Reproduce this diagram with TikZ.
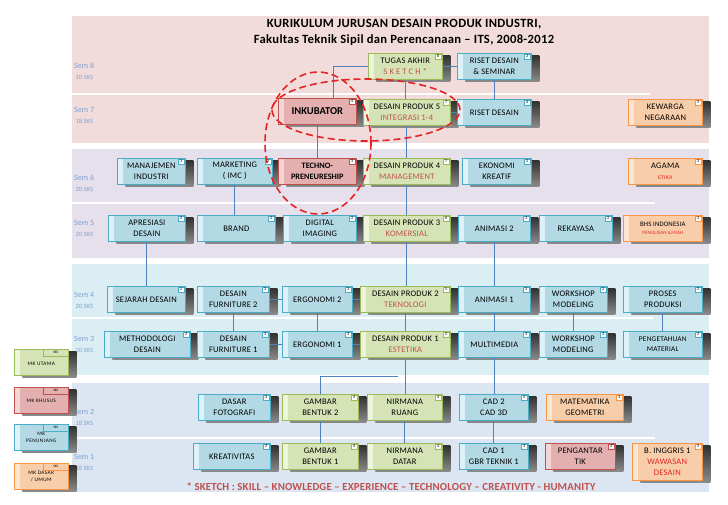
\documentclass[tikz,border=0pt]{standalone}
\usepackage{fontspec}
\setmainfont{Carlito}
\usetikzlibrary{positioning, shadows, calc}
\definecolor{biruIsi}{HTML}{B3D9E5}
\definecolor{biruTerang}{HTML}{DDF2F8}
\definecolor{biruGaris}{HTML}{4BACC6}
\definecolor{hijauIsi}{HTML}{D5E3B6}
\definecolor{hijauTerang}{HTML}{ECF4D9}
\definecolor{hijauGaris}{HTML}{9BBB59}
\definecolor{merahIsi}{HTML}{E4B0AF}
\definecolor{merahTerang}{HTML}{F3D5D4}
\definecolor{merahGaris}{HTML}{C0504D}
\definecolor{oranyeIsi}{HTML}{F8CDA9}
\definecolor{oranyeTerang}{HTML}{FCE5D1}
\definecolor{oranyeGaris}{HTML}{F79646}
\definecolor{pitaMerah}{HTML}{F2DCDB}
\definecolor{pitaUngu}{HTML}{E6E0EC}
\definecolor{pitaBiru}{HTML}{DBEEF4}
\definecolor{pitaAbu}{HTML}{DCE6F2}
\definecolor{teksSem}{HTML}{7F9FD0}
\definecolor{teksKet}{HTML}{C0504D}
\definecolor{teksMerah}{HTML}{E42424}
\definecolor{garisBiru}{HTML}{4F81BD}
\tikzset{
  mk/.style={
    rectangle, inner sep=1pt, minimum height=26pt, align=center,
    font=\fontsize{8.5}{11}\selectfont\addfontfeatures{LetterSpace=3},
    line width=0.6pt,
    general shadow={shadow xshift=8pt, shadow yshift=-2.5pt, top color=black!80, bottom color=black!45}
  },
  mkbiru/.style={mk, draw=biruGaris, fill=biruIsi,
    path picture={\fill[biruTerang] (path picture bounding box.north west) rectangle ([xshift=6pt]path picture bounding box.south west);}},
  mkhijau/.style={mk, draw=hijauGaris, fill=hijauIsi,
    path picture={\fill[hijauTerang] (path picture bounding box.north west) rectangle ([xshift=6pt]path picture bounding box.south west);}},
  mkmerah/.style={mk, draw=merahGaris, fill=merahIsi,
    path picture={\fill[merahTerang] (path picture bounding box.north west) rectangle ([xshift=6pt]path picture bounding box.south west);}},
  mkoranye/.style={mk, draw=oranyeGaris, fill=oranyeIsi,
    path picture={\fill[oranyeTerang] (path picture bounding box.north west) rectangle ([xshift=6pt]path picture bounding box.south west);}},
  badge/.style={fill=white, inner sep=0pt, minimum width=6.5pt, minimum height=5.5pt,
    font=\fontsize{4.2}{4.2}\selectfont, line width=0.5pt},
  legenda/.style={minimum width=54pt, minimum height=26pt, anchor=north west,
    font=\fontsize{5.3}{7}\selectfont\addfontfeatures{LetterSpace=8}},
  sksbox/.style={inner sep=0pt, minimum width=25pt, minimum height=7pt, anchor=north east,
    font=\fontsize{3.5}{4}\selectfont, line width=0.5pt},
  semlbl/.style={anchor=west, align=left, text=teksSem, inner sep=0pt, font=\fontsize{8}{11}\selectfont},
  garis/.style={draw=garisBiru, line width=0.7pt},
  pemisah/.style={draw=white, line width=1.3pt},
  lingkaran/.style={draw=teksMerah, line width=1.6pt, dash pattern=on 7pt off 4pt},
}
% kotak mata kuliah + kotak sks
\newcommand{\matkul}[7][]{%
  \node[mk#2, #1, minimum width=#5pt, anchor=north west] (#3) at (#4) {#7};
  \node[badge, draw=#2Garis] at ([xshift=-4.5pt, yshift=-3.5pt]#3.north east) {#6};
}
\newcommand{\ket}[1]{\textcolor{teksKet}{#1}}
\newcommand{\merah}[1]{\textcolor{teksMerah}{#1}}
\newcommand{\sks}[1]{{\fontsize{6.5}{7}\selectfont\ #1}}
\begin{document}
\begin{tikzpicture}[x=1pt, y=-1pt]
  \useasboundingbox (0,0) rectangle (728,504);

  % pita semester
  \fill[pitaMerah] (72,16) rectangle (709,143);
  \fill[pitaUngu] (72,149) rectangle (709,258);
  \fill[pitaBiru] (72,264) rectangle (709,375);
  \fill[pitaAbu] (72,383) rectangle (709,492);
  \draw[pemisah] (72,94) -- (650,94);
  \draw[pemisah] (72,203) -- (655,203);
  \draw[pemisah] (72,318) -- (653,318);
  \draw[pemisah] (72,438) -- (655,438);

  \node[font=\fontsize{12.6}{16.5}\selectfont\bfseries\addfontfeatures{LetterSpace=2.5}, align=center] (judul) at (404,32.5)
    {KURIKULUM JURUSAN DESAIN PRODUK INDUSTRI,\\Fakultas Teknik Sipil dan Perencanaan -- ITS, 2008-2012};

  \node[semlbl] (sem8) at (74,71) {Sem 8\\\sks{10 SKS}};
  \node[semlbl] (sem7) at (74,115) {Sem 7\\\sks{18 SKS}};
  \node[semlbl] (sem6) at (74,183.5) {Sem 6\\\sks{20 SKS}};
  \node[semlbl] (sem5) at (74,228) {Sem 5\\\sks{20 SKS}};
  \node[semlbl] (sem4) at (74,300) {Sem 4\\\sks{20 SKS}};
  \node[semlbl] (sem3) at (74,344) {Sem 3\\\sks{20 SKS}};
  \node[semlbl] (sem2) at (74,417) {Sem 2\\\sks{18 SKS}};
  \node[semlbl] (sem1) at (74,462) {Sem 1\\\sks{18 SKS}};

  % semester 8 - 7
  \matkul{hijau}{ta}{368,53}{74}{8}{TUGAS AKHIR\\\ket{S K E T C H *}}
  \matkul{biru}{rsem}{457,53}{74}{2}{RISET DESAIN\\\& SEMINAR}
  \matkul[font=\fontsize{10.5}{11}\selectfont\bfseries]{merah}{inku}{278,98}{78}{4}{INKUBATOR}
  \matkul{hijau}{dp5}{363,99}{87}{7}{DESAIN PRODUK 5\\\ket{INTEGRASI 1-4}}
  \matkul{biru}{riset}{457,99}{74}{4}{RISET DESAIN}
  \matkul{oranye}{kwn}{628,99}{74}{3}{KEWARGA\\NEGARAAN}

  % semester 6 - 5
  \matkul{biru}{mi}{117,158}{68}{3}{MANAJEMEN\\INDUSTRI}
  \matkul{biru}{mkt}{197,158}{75}{2}{MARKETING\\( IMC )}
  \matkul[font=\fontsize{8.3}{11}\selectfont\bfseries]{merah}{tp}{278,158}{78}{3}{TECHNO-\\PRENEURESHIP}
  \matkul{hijau}{dp4}{363,158}{87}{7}{DESAIN PRODUK 4\\\ket{MANAGEMENT}}
  \matkul{biru}{ek}{462,158}{69}{2}{EKONOMI\\KREATIF}
  \matkul{oranye}{ag}{628,158}{74}{3}{AGAMA\\{\fontsize{5.8}{6}\selectfont\merah{ETIKA}}}
  \matkul{biru}{apr}{108,215}{77}{2}{APRESIASI\\DESAIN}
  \matkul{biru}{brand}{197,215}{78}{2}{BRAND}
  \matkul{biru}{dig}{283,215}{73}{2}{DIGITAL\\IMAGING}
  \matkul{hijau}{dp3}{363,215}{87}{6}{DESAIN PRODUK 3\\\ket{KOMERSIAL}}
  \matkul{biru}{ani2}{458,215}{72}{3}{ANIMASI 2}
  \matkul{biru}{rek}{539,215}{73}{2}{REKAYASA}
  \matkul[font=\fontsize{6.8}{8.5}\selectfont\addfontfeatures{LetterSpace=2}]{oranye}{bind}{623,215}{79}{3}{BHS INDONESIA\\{\fontsize{5}{5.5}\selectfont\merah{PENULISAN ILMIAH}}}

  % semester 4 - 3
  \matkul{biru}{sej}{107,286}{78}{2}{SEJARAH DESAIN}
  \matkul{biru}{df2}{197,286}{72}{3}{DESAIN\\FURNITURE 2}
  \matkul{biru}{erg2}{282,286}{70}{3}{ERGONOMI 2}
  \matkul{hijau}{dp2}{360,286}{90}{5}{DESAIN PRODUK 2\\\ket{TEKNOLOGI}}
  \matkul{biru}{ani1}{458,286}{72}{3}{ANIMASI 1}
  \matkul{biru}{ws2}{539,286}{68}{2}{WORKSHOP\\MODELING}
  \matkul{biru}{pp}{623,286}{79}{2}{PROSES\\PRODUKSI}
  \matkul{biru}{met}{104,331}{86}{2}{METHODOLOGI\\DESAIN}
  \matkul{biru}{df1}{197,331}{72}{3}{DESAIN\\FURNITURE 1}
  \matkul{biru}{erg1}{282,331}{70}{3}{ERGONOMI 1}
  \matkul{hijau}{dp1}{360,331}{90}{5}{DESAIN PRODUK 1\\\ket{ESTETIKA}}
  \matkul{biru}{mm}{458,331}{72}{3}{MULTIMEDIA}
  \matkul{biru}{ws1}{539,331}{68}{2}{WORKSHOP\\MODELING}
  \matkul[font=\fontsize{7.3}{10}\selectfont\addfontfeatures{LetterSpace=3}]{biru}{pm}{623,331}{79}{2}{PENGETAHUAN\\MATERIAL}

  % semester 2 - 1
  \matkul{biru}{foto}{198,394}{72}{3}{DASAR\\FOTOGRAFI}
  \matkul{hijau}{gb2}{282,394}{76}{4}{GAMBAR\\BENTUK 2}
  \matkul{hijau}{nr}{367,394}{75}{4}{NIRMANA\\RUANG}
  \matkul{biru}{cad2}{459,394}{69}{4}{CAD 2\\CAD 3D}
  \matkul{oranye}{mat}{546,394}{77}{3}{MATEMATIKA\\GEOMETRI}
  \matkul{biru}{kre}{193,443}{77}{2}{KREATIVITAS}
  \matkul{hijau}{gb1}{282,443}{76}{4}{GAMBAR\\BENTUK 1}
  \matkul{hijau}{nd}{367,443}{75}{4}{NIRMANA\\DATAR}
  \matkul{biru}{cad1}{459,443}{69}{3}{CAD 1\\GBR TEKNIK 1}
  \matkul{merah}{tik}{545,443}{70}{2}{PENGANTAR\\TIK}
  \matkul[minimum height=37pt]{oranye}{bing}{632,443}{70}{3}{B. INGGRIS 1\\\merah{WAWASAN}\\\merah{DESAIN}}

  % legenda
  \node[mkhijau, legenda] (lutama) at (14,349) {\\MK UTAMA};
  \node[sksbox, draw=hijauGaris, fill=hijauIsi] at (lutama.north east) {SKS};
  \node[mkmerah, legenda] (lkhusus) at (14,387) {MK KHUSUS};
  \node[sksbox, draw=merahGaris, fill=merahIsi] at (lkhusus.north east) {SKS};
  \node[mkbiru, legenda] (lpenunjang) at (14,424) {MK\\PENUNJANG};
  \node[sksbox, draw=biruGaris, fill=biruIsi] at (lpenunjang.north east) {SKS};
  \node[mkoranye, legenda] (ldasar) at (14,463) {MK DASAR\\/ UMUM};
  \node[sksbox, draw=oranyeGaris, fill=oranyeIsi] at (ldasar.north east) {SKS};

  % hubungan
  \draw[garis] (ta.west) -| ([xshift=16pt]inku.north);
  \draw[garis] (ta.east) -- (rsem.west);
  \draw[garis] (inku.south) -- (tp.north);
  \draw[garis] (dp5.east) -- (riset.west);
  \draw[garis] (rsem.south) -- (riset.north);
  \foreach \a/\b in {ta/dp5, dp5/dp4, dp4/dp3, dp3/dp2, dp2/dp1, dp1/nr, nr/nd,
                     ani2/ani1, ani1/mm, mm/cad2, cad2/cad1, mkt/brand, apr/sej,
                     df2/df1, erg2/erg1, ws2/ws1, pp/pm, gb2/gb1}
    \draw[garis] (\a.south) -- (\a.south |- \b.north);
  \draw[garis] (df2.east) -- (erg2.west);
  \draw[garis] (erg2.east) -- (dp2.west);
  \draw[garis] (df1.east) -- (erg1.west);
  \draw[garis] (erg1.east) -- (dp1.west);
  \coordinate (ujung) at (398,376);
  \draw[garis] (gb2.north) |- (ujung);

  % lingkaran inkubator
  \draw[lingkaran] (366,110) ellipse [x radius=94pt, y radius=31pt];
  \draw[lingkaran] (318,143) ellipse [x radius=53pt, y radius=71pt];

  \node[font=\fontsize{10.8}{12}\selectfont\bfseries\addfontfeatures{LetterSpace=1.5}, text=teksKet] (catatan) at (391,487)
    {* SKETCH : SKILL -- KNOWLEDGE -- EXPERIENCE -- TECHNOLOGY -- CREATIVITY - HUMANITY};
\end{tikzpicture}
\end{document}
